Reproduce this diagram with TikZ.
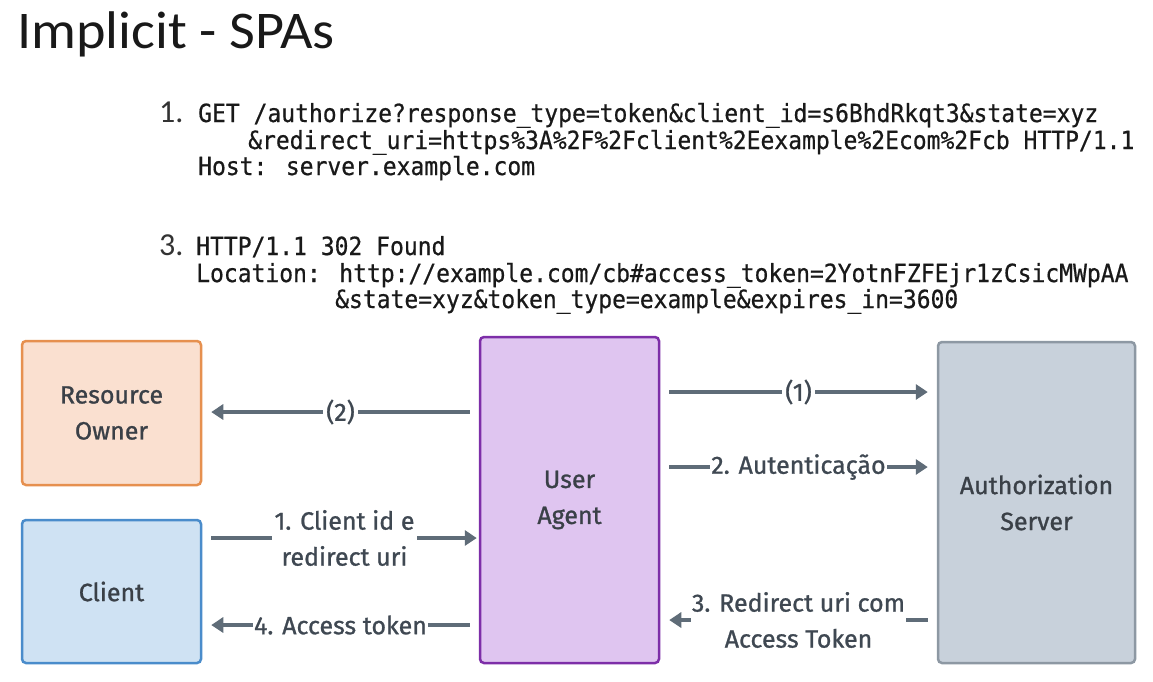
\documentclass[tikz,border=0pt]{standalone}
\usepackage{fontspec}
\setmainfont{Fira Sans}
\newfontfamily\lblfont[FakeBold=1]{Fira Sans}
\newfontfamily\titlefont[FakeStretch=1.06]{Carlito}
\newfontfamily\numfont{Carlito}
\newfontfamily\codefont[FakeStretch=0.92,FakeBold=0.6]{DejaVu Sans Mono}
\usetikzlibrary{arrows.meta}
\definecolor{arrowc}{HTML}{5F6C78}
\definecolor{labc}{HTML}{3F4852}
\definecolor{boxtxt}{HTML}{3A4047}
\definecolor{rofill}{HTML}{FAE0D0}\definecolor{rodraw}{HTML}{E6904F}
\definecolor{clfill}{HTML}{CFE2F3}\definecolor{cldraw}{HTML}{4A8CCB}
\definecolor{uafill}{HTML}{DFC5F0}\definecolor{uadraw}{HTML}{7D2EA8}
\definecolor{asfill}{HTML}{C8D1DB}\definecolor{asdraw}{HTML}{8D98A3}
\tikzset{
  box/.style={draw, line width=2.5pt, rounded corners=4pt, align=center, text=boxtxt,
    font=\lblfont\fontsize{25}{36}\selectfont, inner sep=0pt},
  arr/.style={draw=arrowc, line width=4pt, -{Triangle[length=12pt,width=15pt]}},
  lab/.style={fill=white, text=labc, inner sep=3pt, align=center, font=\lblfont\fontsize{25}{36}\selectfont},
  code/.style={anchor=base west, inner sep=0pt, text=black!90, font=\codefont\fontsize{25}{27}\selectfont},
  num/.style={anchor=base west, inner sep=0pt, font=\numfont\fontsize{32}{32}\selectfont, text=black!80},
}
\begin{document}
\begin{tikzpicture}[x=1pt,y=-1pt]
\useasboundingbox (0,0) rectangle (1153,681);
\fill[white] (0,0) rectangle (1153,681);
% title
\node[anchor=base west, inner sep=0pt, text=black!90, font=\titlefont\fontsize{53}{53}\selectfont] (title) at (17,48) {Implicit - SPAs};
% code block 1
\node[num] (n1) at (159,122) {1.};
\node[code] (c11) at (198,122) {GET /authorize?response\_type=token\&client\_id=s6BhdRkqt3\&state=xyz};
\node[code] (c12) at (248,149) {\&redirect\_uri=https\%3A\%2F\%2Fclient\%2Eexample\%2Ecom\%2Fcb HTTP/1.1};
\node[code] (c13) at (198,175) {Host: server.example.com};
% code block 2
\node[num] (n3) at (159,255) {3.};
\node[code] (c21) at (196,255) {HTTP/1.1 302 Found};
\node[code] (c22) at (196,282) {Location: http://example.com/cb\#access\_token=2YotnFZFEjr1zCsicMWpAA};
\node[code] (c23) at (335,308) {\&state=xyz\&token\_type=example\&expires\_in=3600};
% boxes
\node[box, fill=rofill, draw=rodraw, minimum width=179pt, minimum height=144pt] (ro) at (111.5,413) {Resource\\Owner};
\node[box, fill=clfill, draw=cldraw, minimum width=179pt, minimum height=143pt] (cl) at (111.5,591.5) {Client};
\node[box, fill=uafill, draw=uadraw, minimum width=179pt, minimum height=326pt] (ua) at (569.5,500) {\raisebox{-3pt}{User}\\[0pt]\raisebox{-3pt}{Agent}};
\node[box, fill=asfill, draw=asdraw, minimum width=197pt, minimum height=321pt] (as) at (1036.5,502.5) {Authorization\\Server};
% rows
\coordinate (r1) at (0,392);
\coordinate (r2) at (0,412);
\coordinate (r3) at (0,467);
\coordinate (r4) at (0,538);
\coordinate (r5) at (0,620);
\coordinate (r6) at (0,625);
% connectors
\draw[arr, shorten <=9pt, shorten >=9pt] (ua.west |- r2) -- node[lab]{(2)} (ro.east |- r2);
\draw[arr, shorten <=9pt, shorten >=9pt] (ua.east |- r1) -- node[lab]{(1)} (as.west |- r1);
\draw[arr, shorten <=9pt, shorten >=9pt] (ua.east |- r3) -- node[lab, inner sep=1pt]{2. Autenticação} (as.west |- r3);
\draw[arr, shorten <=9pt, shorten >=2pt] (cl.east |- r4) -- node[lab, xshift=4pt]{1. Client id e\\redirect uri} (ua.west |- r4);
\draw[arr, shorten <=9pt, shorten >=9pt] (as.west |- r5) -- node[lab, inner sep=1pt]{3. Redirect uri com\\Access Token} (ua.east |- r5);
\draw[arr, shorten <=9pt, shorten >=9pt] (ua.west |- r6) -- node[lab, inner sep=1pt]{4. Access token} (cl.east |- r6);
\end{tikzpicture}
\end{document}
